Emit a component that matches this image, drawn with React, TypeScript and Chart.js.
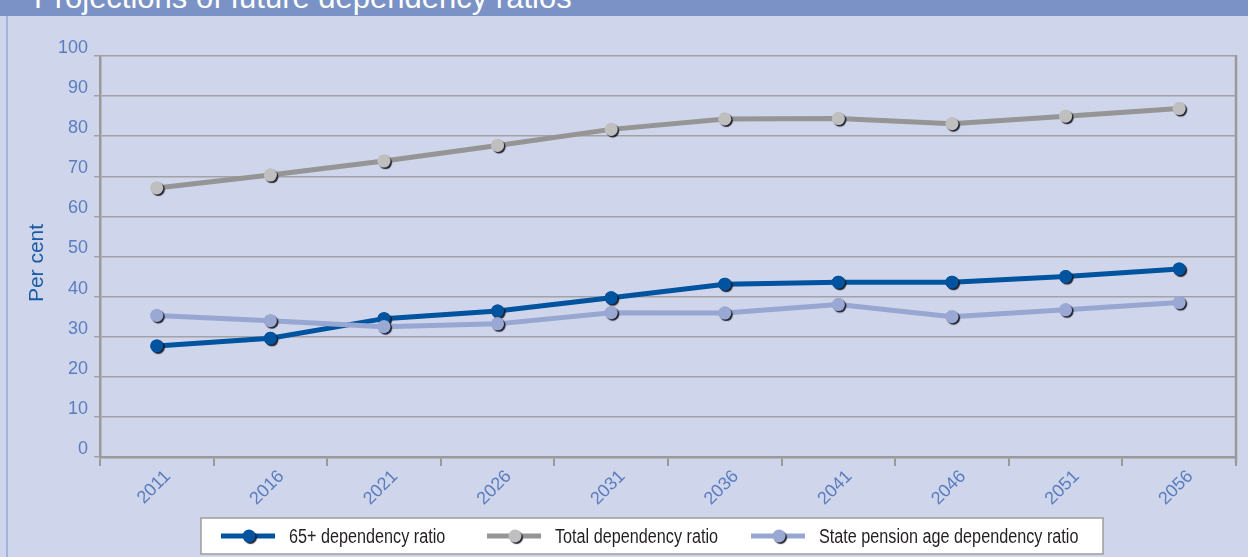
import React, { useEffect, useRef } from "react";
import { Chart, registerables } from "chart.js";

Chart.register(...registerables);

const years = ["2011", "2016", "2021", "2026", "2031", "2036", "2041", "2046", "2051", "2056"];
const ratio65 = [27.7, 29.6, 34.5, 36.4, 39.7, 43.1, 43.6, 43.6, 45.0, 46.9];
const totalRatio = [67.1, 70.3, 73.8, 77.7, 81.7, 84.3, 84.4, 83.1, 85.0, 86.9];
const spaRatio = [35.3, 34.0, 32.5, 33.2, 36.0, 35.9, 38.0, 35.0, 36.7, 38.5];
const seriesLabels = [
  "65+ dependency ratio",
  "Total dependency ratio",
  "State pension age dependency ratio",
];
const titleText = "Projections of future dependency ratios";
const yAxisTitle = "Per cent";

const lineColors = ["#00539f", "#959595", "#97a7d2"];
const pointColors = ["#00539f", "#bfbfbf", "#9aa9d3"];

const REG = "'Liberation Sans', Arial, sans-serif";

const legendPlugin = {
  id: "boxLegend",
  afterDraw(chart: any) {
    const ctx = chart.ctx;
    const box = { x: 201, y: 518, w: 902, h: 36 };
    const itemX = [221, 487, 751];
    const cy = box.y + box.h / 2;
    ctx.save();
    ctx.fillStyle = "#ffffff";
    ctx.fillRect(box.x, box.y, box.w, box.h);
    ctx.strokeStyle = "#9c9c9c";
    ctx.lineWidth = 1.5;
    ctx.strokeRect(box.x, box.y, box.w, box.h);
    chart.data.datasets.forEach((ds: any, i: number) => {
      const x0 = itemX[i];
      ctx.strokeStyle = ds.borderColor;
      ctx.lineWidth = 5;
      ctx.beginPath();
      ctx.moveTo(x0, cy);
      ctx.lineTo(x0 + 54, cy);
      ctx.stroke();
      ctx.save();
      ctx.shadowColor = "rgba(15,15,25,0.9)";
      ctx.shadowOffsetX = 1.5;
      ctx.shadowOffsetY = 1.5;
      ctx.shadowBlur = 1;
      ctx.fillStyle = ds.pointBackgroundColor;
      ctx.beginPath();
      ctx.arc(x0 + 28, cy, 6.5, 0, Math.PI * 2);
      ctx.fill();
      ctx.restore();
      ctx.save();
      ctx.translate(x0 + 68, cy + 1);
      ctx.scale(0.81, 1);
      ctx.fillStyle = "#231f20";
      ctx.font = `20px ${REG}`;
      ctx.textBaseline = "middle";
      ctx.textAlign = "left";
      ctx.fillText(ds.label, 0, 0);
      ctx.restore();
    });
    ctx.restore();
  },
};

const frameShadowPlugin = {
  id: "frameAndShadows",
  afterDatasetDraw(chart: any, args: any) {
    const ctx = chart.ctx;
    ctx.save();
    ctx.shadowColor = "rgba(15,15,25,0.9)";
    ctx.shadowOffsetX = 1.5;
    ctx.shadowOffsetY = 1.5;
    ctx.shadowBlur = 1;
    args.meta.data.forEach((pt: any) => pt.draw(ctx, chart.chartArea));
    ctx.restore();
  },
  afterDraw(chart: any) {
    const { ctx, chartArea } = chart;
    ctx.save();
    ctx.strokeStyle = "#9a9a9a";
    ctx.lineWidth = 2.5;
    ctx.beginPath();
    ctx.moveTo(chartArea.right, chartArea.top - 1);
    ctx.lineTo(chartArea.right, chartArea.bottom + 6);
    ctx.stroke();
    // y axis title
    ctx.translate(37, 263);
    ctx.rotate(-Math.PI / 2);
    ctx.fillStyle = "#1b5aa5";
    ctx.font = `21px ${REG}`;
    ctx.textAlign = "center";
    ctx.textBaseline = "middle";
    ctx.fillText(yAxisTitle, 0, 0);
    ctx.restore();
  },
};

export default function App() {
  const canvasRef = useRef<HTMLCanvasElement | null>(null);

  useEffect(() => {
    if (!canvasRef.current) return;
    const data = [ratio65, totalRatio, spaRatio];
    const orders = [2, 3, 1];
    const chart = new Chart(canvasRef.current, {
      type: "line",
      data: {
        labels: years,
        datasets: data.map((d, i) => ({
          label: seriesLabels[i],
          data: d,
          borderColor: lineColors[i],
          backgroundColor: pointColors[i],
          pointBackgroundColor: pointColors[i],
          pointBorderWidth: 0,
          pointRadius: 6.5,
          borderWidth: 5,
          tension: 0,
          order: orders[i],
        })),
      },
      options: {
        responsive: false,
        animation: false,
        layout: { padding: { top: 56, right: 12, left: 0, bottom: 0 } },
        plugins: {
          legend: { display: false },
          tooltip: { enabled: false },
          title: { display: false },
        },
        scales: {
          x: {
            offset: true,
            grid: {
              offset: true,
              drawOnChartArea: false,
              drawTicks: true,
              tickLength: 9,
              color: "#9a9a9a",
              lineWidth: 2,
            },
            border: { display: true, color: "#9a9a9a", width: 2.5 },
            ticks: {
              color: "#5a7dbf",
              font: { family: REG, size: 18 },
              minRotation: 45,
              maxRotation: 45,
              padding: 0,
              labelOffset: 11,
              autoSkip: false,
            },
            afterFit: (s: any) => {
              s.height = 100;
            },
          },
          y: {
            min: 0,
            max: 100,
            ticks: {
              stepSize: 10,
              color: "#5a7dbf",
              font: { family: REG, size: 18 },
              padding: 6,
              labelOffset: -8,
            },
            grid: {
              color: "#a2a2a6",
              lineWidth: 1.5,
              drawTicks: true,
              tickLength: 6,
            },
            border: { display: true, color: "#9a9a9a", width: 2.5 },
            title: { display: false },
            afterFit: (s: any) => {
              s.width = 100;
            },
          },
        },
      },
      plugins: [frameShadowPlugin, legendPlugin],
    });
    return () => chart.destroy();
  }, []);

  return (
    <div
      style={{
        position: "fixed",
        left: 0,
        top: 0,
        width: 1248,
        height: 557,
        background: "#cfd5ea",
        overflow: "hidden",
      }}
    >
      <div
        style={{
          position: "absolute",
          left: 0,
          top: 0,
          width: 1248,
          height: 16,
          background: "#7a92c5",
          overflow: "hidden",
        }}
      >
        <span
          style={{
            position: "absolute",
            left: 34,
            top: -18,
            fontFamily: REG,
            fontSize: 31,
            lineHeight: "31px",
            color: "#ffffff",
            whiteSpace: "nowrap",
          }}
        >
          {titleText}
        </span>
      </div>
      <div
        style={{
          position: "absolute",
          left: 6,
          top: 16,
          width: 2,
          height: 541,
          background: "#a3b4db",
        }}
      />
      <canvas
        ref={canvasRef}
        width={1248}
        height={557}
        style={{ position: "absolute", left: 0, top: 0, width: 1248, height: 557 }}
      />
    </div>
  );
}
